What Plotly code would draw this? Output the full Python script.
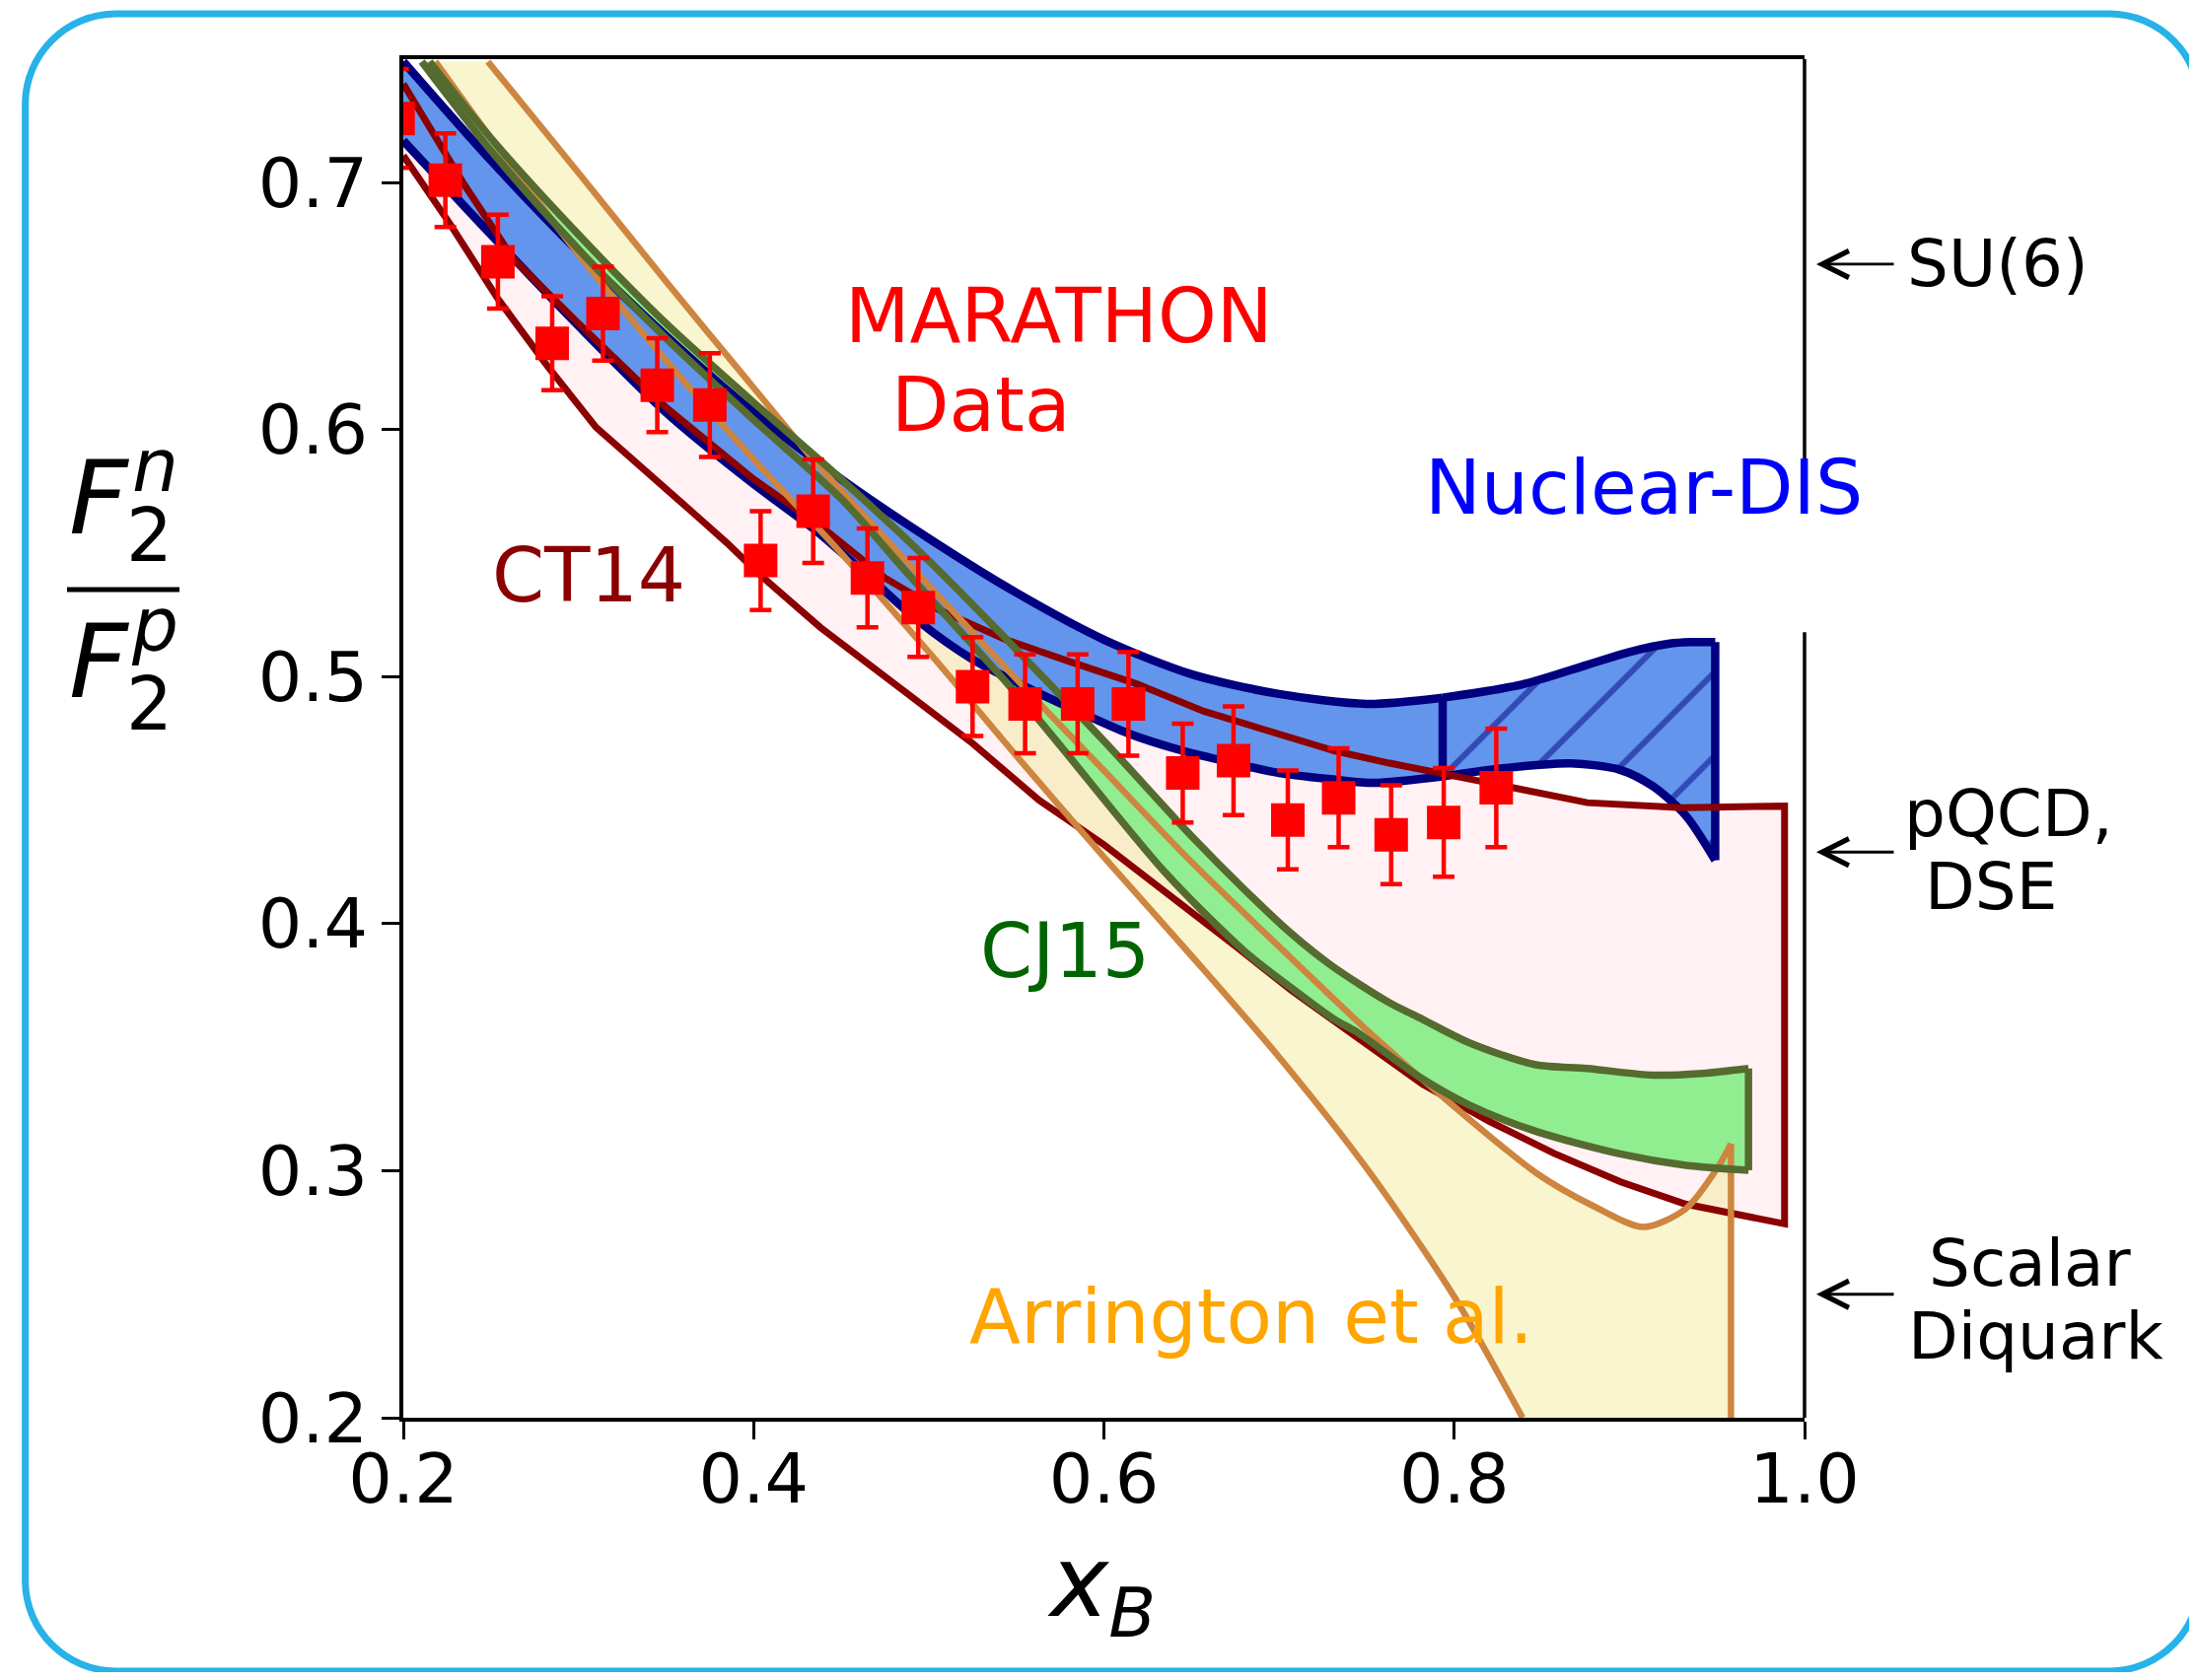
import plotly.graph_objects as go

# ---------------- values ----------------
# MARATHON data points
data_x = [0.197, 0.224, 0.254, 0.285, 0.314, 0.345, 0.375, 0.404, 0.434, 0.465, 0.494,
          0.525, 0.555, 0.585, 0.614, 0.645, 0.674, 0.705, 0.734, 0.764, 0.794, 0.824]
data_y = [0.726, 0.701, 0.668, 0.635, 0.647, 0.618, 0.610, 0.547, 0.567, 0.540, 0.528,
          0.496, 0.489, 0.489, 0.489, 0.461, 0.466, 0.442, 0.451, 0.436, 0.441, 0.455]
data_err = [0.020, 0.019, 0.019, 0.019, 0.019, 0.019, 0.021, 0.020, 0.021, 0.020, 0.020,
            0.020, 0.020, 0.020, 0.021, 0.020, 0.022, 0.020, 0.020, 0.020, 0.022, 0.024]

# Nuclear-DIS band (solid part)
dis_up_x = [0.200, 0.250, 0.300, 0.350, 0.400, 0.450, 0.500, 0.550, 0.600, 0.650, 0.700, 0.750, 0.7934]
dis_up_y = [0.749, 0.709, 0.672, 0.638, 0.607, 0.580, 0.556, 0.534, 0.515, 0.501, 0.493, 0.489, 0.4915]
dis_lo_x = [0.200, 0.250, 0.300, 0.350, 0.400, 0.434, 0.465, 0.495, 0.525, 0.555, 0.585, 0.614,
            0.645, 0.674, 0.700, 0.730, 0.754, 0.7934]
dis_lo_y = [0.717, 0.679, 0.642, 0.607, 0.578, 0.560, 0.541, 0.522, 0.507, 0.496, 0.486, 0.477,
            0.470, 0.465, 0.461, 0.4585, 0.457, 0.4596]
# Nuclear-DIS band (hatched part)
hat_up_x = [0.7934, 0.8385, 0.876, 0.900, 0.923, 0.935, 0.949]
hat_up_y = [0.4915, 0.4968, 0.5048, 0.510, 0.5134, 0.514, 0.514]
hat_lo_x = [0.7934, 0.829, 0.8666, 0.8947, 0.9135, 0.9323, 0.949]
hat_lo_y = [0.4596, 0.463, 0.4649, 0.4623, 0.4556, 0.4437, 0.4257]

# CT14 band
ct_up_x = [0.200, 0.235, 0.263, 0.300, 0.350, 0.400, 0.440, 0.475, 0.506, 0.544, 0.581, 0.619,
           0.657, 0.694, 0.7315, 0.763, 0.800, 0.820, 0.876, 0.930, 0.9886]
ct_up_y = [0.740, 0.699, 0.669, 0.643, 0.609, 0.580, 0.560, 0.540, 0.527, 0.515, 0.506, 0.497,
           0.486, 0.478, 0.470, 0.465, 0.460, 0.457, 0.449, 0.447, 0.4476]
ct_lo_x = [0.200, 0.226, 0.254, 0.282, 0.310, 0.348, 0.366, 0.385, 0.404, 0.438, 0.490, 0.525,
           0.563, 0.600, 0.638, 0.675, 0.707, 0.745, 0.782, 0.820, 0.857, 0.895, 0.932, 0.9886]
ct_lo_y = [0.711, 0.684, 0.653, 0.626, 0.601, 0.577, 0.566, 0.554, 0.541, 0.520, 0.492, 0.473,
           0.450, 0.432, 0.411, 0.391, 0.373, 0.354, 0.335, 0.320, 0.307, 0.2955, 0.2865, 0.2785]

# CJ15 band
cj_up_x = [0.215, 0.250, 0.300, 0.350, 0.400, 0.450, 0.500, 0.550, 0.600, 0.650, 0.680, 0.707,
           0.730, 0.763, 0.780, 0.808, 0.846, 0.876, 0.9135, 0.9417, 0.968]
cj_up_y = [0.749, 0.718, 0.679, 0.643, 0.611, 0.580, 0.547, 0.511, 0.474, 0.4355, 0.414, 0.396,
           0.383, 0.368, 0.362, 0.352, 0.343, 0.3414, 0.3387, 0.3394, 0.3414]
cj_lo_x = [0.2105, 0.250, 0.300, 0.350, 0.400, 0.450, 0.489, 0.557, 0.6346, 0.680, 0.707, 0.7315,
           0.7447, 0.780, 0.8083, 0.846, 0.8947, 0.9323, 0.968]
cj_lo_y = [0.749, 0.713, 0.673, 0.637, 0.604, 0.572, 0.541, 0.4875, 0.421, 0.389, 0.374, 0.3613,
           0.356, 0.338, 0.3267, 0.3161, 0.3068, 0.3022, 0.3002]

# Arrington et al. band
ar_up_x = [0.2483, 0.300, 0.350, 0.400, 0.434, 0.500, 0.550, 0.600, 0.650, 0.707, 0.750, 0.790,
           0.847, 0.880, 0.908, 0.932, 0.951, 0.958]
ar_up_y = [0.749, 0.704, 0.660, 0.617, 0.588, 0.537, 0.499, 0.462, 0.425, 0.386, 0.357, 0.332,
           0.299, 0.2855, 0.2772, 0.2845, 0.302, 0.311]
ar_lo_x = [0.2183, 0.250, 0.300, 0.350, 0.400, 0.450, 0.500, 0.550, 0.600, 0.650, 0.700, 0.750,
           0.800, 0.839]
ar_lo_y = [0.749, 0.718, 0.671, 0.628, 0.588, 0.550, 0.510, 0.468, 0.427, 0.387, 0.346, 0.301,
           0.249, 0.200]

# theory limits marked on the right
limit_values = [0.667, 0.429, 0.250]

x_range = [0.2, 1.0]
y_range = [0.2, 0.75]
x_ticks = [0.2, 0.4, 0.6, 0.8, 1.0]
y_ticks = [0.2, 0.3, 0.4, 0.5, 0.6, 0.7]

# ---------------- layout geometry (page pixels) ----------------
PAGE_W, PAGE_H = 2228, 1704
BODY = 8                       # default <body> margin of the html page
W, H = PAGE_W - 2 * BODY, PAGE_H - 2 * BODY
PX0, PX1, PY0, PY1 = 409, 1830, 60, 1438      # plot area in page pixels
ML, MT = PX0 - BODY, PY0 - BODY
MR, MB = W - (PX1 - BODY), H - (PY1 - BODY)
PW, PH = PX1 - PX0, PY1 - PY0


def pp(xp, yp):
    """page pixel -> paper coordinates"""
    return (xp - PX0) / PW, (PY1 - yp) / PH


FONT = "DejaVu Sans"
NAVY = "#000080"
DARKRED = "#8B0000"
OLIVE = "#556B2F"
PERU = "#CD853F"
W_NAVY, W_RED, W_OLIVE, W_PERU = 8.5, 7.0, 7.5, 6.5

fig = go.Figure()

# ---- fills ----
fig.add_trace(go.Scatter(x=ct_up_x + ct_lo_x[::-1], y=ct_up_y + ct_lo_y[::-1],
                         fill="toself", fillcolor="rgba(255,192,203,0.22)",
                         mode="lines", line=dict(width=0), hoverinfo="skip"))
fig.add_trace(go.Scatter(x=ar_up_x + [ar_up_x[-1]] + ar_lo_x[::-1],
                         y=ar_up_y + [y_range[0]] + ar_lo_y[::-1],
                         fill="toself", fillcolor="rgba(240,230,140,0.42)",
                         mode="lines", line=dict(width=0), hoverinfo="skip"))
fig.add_trace(go.Scatter(x=cj_up_x + cj_lo_x[::-1], y=cj_up_y + cj_lo_y[::-1],
                         fill="toself", fillcolor="#90EE90",
                         mode="lines", line=dict(width=0), hoverinfo="skip"))
fig.add_trace(go.Scatter(x=dis_up_x + dis_lo_x[::-1], y=dis_up_y + dis_lo_y[::-1],
                         fill="toself", fillcolor="#6495ED",
                         mode="lines", line=dict(width=0), hoverinfo="skip"))
fig.add_trace(go.Scatter(x=hat_up_x + hat_lo_x[::-1], y=hat_up_y + hat_lo_y[::-1],
                         fill="toself", fillcolor="#6495ED",
                         fillpattern=dict(shape="/", fgcolor=NAVY, bgcolor="#6495ED",
                                          size=60, solidity=0.1),
                         mode="lines", line=dict(width=0), hoverinfo="skip"))

# ---- Nuclear-DIS outline ----
for xs, ys in [(dis_up_x, dis_up_y), (dis_lo_x, dis_lo_y), (hat_up_x, hat_up_y), (hat_lo_x, hat_lo_y)]:
    fig.add_trace(go.Scatter(x=xs, y=ys, mode="lines",
                             line=dict(color=NAVY, width=W_NAVY, shape="spline", smoothing=0.8),
                             hoverinfo="skip"))
for xv, y0, y1 in [(dis_up_x[-1], dis_lo_y[-1], dis_up_y[-1]), (hat_up_x[-1], hat_lo_y[-1], hat_up_y[-1])]:
    fig.add_trace(go.Scatter(x=[xv, xv], y=[y0, y1], mode="lines",
                             line=dict(color=NAVY, width=W_NAVY), hoverinfo="skip"))

# ---- CT14 outline ----
fig.add_trace(go.Scatter(x=ct_up_x + ct_lo_x[::-1], y=ct_up_y + ct_lo_y[::-1], mode="lines",
                         line=dict(color=DARKRED, width=W_RED), hoverinfo="skip"))

# ---- Arrington outline ----
fig.add_trace(go.Scatter(x=ar_up_x, y=ar_up_y, mode="lines",
                         line=dict(color=PERU, width=W_PERU, shape="spline", smoothing=0.8),
                         hoverinfo="skip"))
fig.add_trace(go.Scatter(x=[ar_up_x[-1], ar_up_x[-1]], y=[ar_up_y[-1], y_range[0]], mode="lines",
                         line=dict(color=PERU, width=W_PERU), hoverinfo="skip"))
fig.add_trace(go.Scatter(x=ar_lo_x, y=ar_lo_y, mode="lines",
                         line=dict(color=PERU, width=W_PERU, shape="spline", smoothing=0.8),
                         hoverinfo="skip"))

# ---- CJ15 outline ----
fig.add_trace(go.Scatter(x=cj_up_x, y=cj_up_y, mode="lines",
                         line=dict(color=OLIVE, width=W_OLIVE, shape="spline", smoothing=0.8),
                         hoverinfo="skip"))
fig.add_trace(go.Scatter(x=cj_lo_x, y=cj_lo_y, mode="lines",
                         line=dict(color=OLIVE, width=W_OLIVE, shape="spline", smoothing=0.8),
                         hoverinfo="skip"))
fig.add_trace(go.Scatter(x=[cj_up_x[-1], cj_lo_x[-1]], y=[cj_up_y[-1], cj_lo_y[-1]], mode="lines",
                         line=dict(color=OLIVE, width=W_OLIVE), hoverinfo="skip"))

# ---- MARATHON data ----
fig.add_trace(go.Scatter(x=data_x, y=data_y, mode="markers",
                         marker=dict(symbol="square", size=34, color="#FF0000"),
                         error_y=dict(type="data", array=data_err, visible=True,
                                      color="#FF0000", thickness=4.5, width=11),
                         hoverinfo="skip"))

# ---- in-plot labels ----
labels = [
    ("MARATHON", 0.5744, 0.6462, "#FF0000"),
    ("Data", 0.5296, 0.6100, "#FF0000"),
    ("Nuclear-DIS", 0.9080, 0.5766, "#0000FF"),
    ("CT14", 0.3056, 0.5409, DARKRED),
    ("CJ15", 0.5776, 0.3891, "#006400"),
    ("Arrington et al.", 0.6840, 0.2408, "#FFA500"),
]
for txt, xv, yv, col in labels:
    fig.add_annotation(x=xv, y=yv, xref="x", yref="y", text=txt, showarrow=False,
                       font=dict(family=FONT, size=76, color=col),
                       xanchor="center", yanchor="middle")

# ---- right-hand limit arrows and texts ----
head_x, _ = pp(1842, 0)
for yv in limit_values:
    fig.add_annotation(x=head_x, y=yv, xref="paper", yref="y", text="", showarrow=True,
                       ax=80, ay=0, axref="pixel", ayref="pixel",
                       arrowhead=5, arrowsize=1.9, arrowwidth=2.8, arrowcolor="black",
                       standoff=0, startstandoff=0)
label_specs = [  # (text, page px x, page px y, anchor)
    ("SU(6)", 1932, 268, "left"),
    ("pQCD,", 2037, 825, "center"),
    ("DSE", 2019, 899, "center"),
    ("Scalar", 2058, 1281, "center"),
    ("Diquark", 2064, 1355, "center"),
]
for t, xx, yy, anc in label_specs:
    xp, yp = pp(xx, yy)
    fig.add_annotation(x=xp, y=yp, xref="paper", yref="paper", text=t, showarrow=False,
                       font=dict(family=FONT, size=66, color="black"),
                       xanchor=anc, yanchor="middle")

# ---- axis titles ----
xp, yp = pp(1117, 1612)
fig.add_annotation(x=xp, y=yp, xref="paper", yref="paper",
                   text="<i>x</i><sub><i>B</i></sub>", showarrow=False,
                   font=dict(family=FONT, size=100, color="black"),
                   xanchor="center", yanchor="middle")
ylab_parts = [  # text, page px x, page px y, size
    ("<i>F</i>", 101, 505, 104),
    ("<i>n</i>", 157, 472, 74),
    ("2", 151, 543, 74),
    ("<i>F</i>", 101, 671, 104),
    ("<i>p</i>", 157, 634, 74),
    ("2", 151, 714, 74),
]
for t, xx, yy, s in ylab_parts:
    xp, yp = pp(xx, yy)
    fig.add_annotation(x=xp, y=yp, xref="paper", yref="paper", text=t, showarrow=False,
                       font=dict(family=FONT, size=s, color="black"),
                       xanchor="center", yanchor="middle")
bx0, by = pp(68, 598)
bx1, _ = pp(182, 598)
fig.add_shape(type="line", xref="paper", yref="paper", x0=bx0, x1=bx1, y0=by, y1=by,
              line=dict(color="black", width=5))

# ---- right spine (interrupted near the Nuclear-DIS label) ----
for y0, y1 in [(0.5663, y_range[1]), (y_range[0], 0.518)]:
    fig.add_shape(type="line", xref="paper", yref="y", x0=1, x1=1, y0=y0, y1=y1,
                  line=dict(color="black", width=3.5), layer="above")

# ---- rounded outer frame ----
lf, tp, rt, bt, r = 25.6, 14, 2231, 1695, 92
k = 0.5523 * r
pts = [("M", [(lf, tp + r)]),
       ("C", [(lf, tp + r - k), (lf + r - k, tp), (lf + r, tp)]),
       ("L", [(rt - r, tp)]),
       ("C", [(rt - r + k, tp), (rt, tp + r - k), (rt, tp + r)]),
       ("L", [(rt, bt - r)]),
       ("C", [(rt, bt - r + k), (rt - r + k, bt), (rt - r, bt)]),
       ("L", [(lf + r, bt)]),
       ("C", [(lf + r - k, bt), (lf, bt - r + k), (lf, bt - r)]),
       ]
path = ""
for cmd, plist in pts:
    path += cmd + " " + " ".join("%.5f,%.5f" % pp(a, b) for a, b in plist) + " "
path += "Z"
fig.add_shape(type="path", xref="paper", yref="paper", path=path,
              line=dict(color="#27B2E8", width=7), fillcolor="rgba(0,0,0,0)", layer="above")

fig.update_layout(
    width=W, height=H, autosize=False,
    margin=dict(l=ML, r=MR, t=MT, b=MB, pad=0),
    paper_bgcolor="white", plot_bgcolor="white",
    showlegend=False,
    font=dict(family=FONT, color="black"),
    xaxis=dict(range=x_range, tickvals=x_ticks, ticktext=["%.1f" % v for v in x_ticks],
               ticks="outside", ticklen=18, tickwidth=3, tickcolor="black",
               showline=True, linewidth=4, linecolor="black", mirror=True,
               showgrid=False, zeroline=False, tickfont=dict(family=FONT, size=70),
               ticklabelstandoff=-20),
    yaxis=dict(range=y_range, tickvals=y_ticks, ticktext=["%.1f" % v for v in y_ticks],
               ticks="outside", ticklen=18, tickwidth=3, tickcolor="black",
               showline=True, linewidth=4, linecolor="black", mirror=False,
               showgrid=False, zeroline=False, tickfont=dict(family=FONT, size=70)),
)

fig.write_html("out.html")
